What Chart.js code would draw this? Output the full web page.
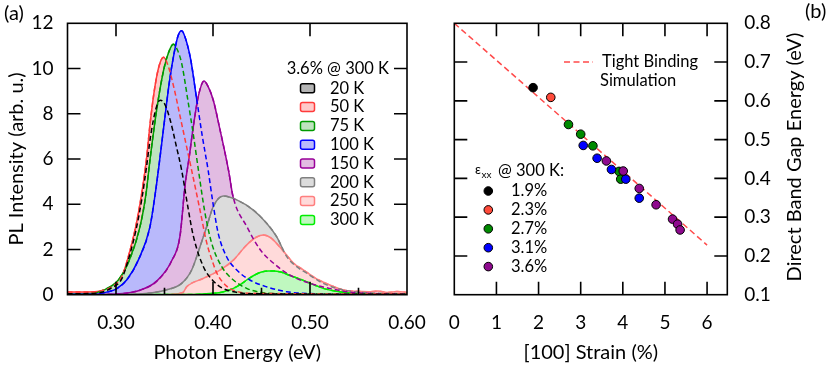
<!DOCTYPE html>
<html>
<head>
<meta charset="utf-8">
<script src="https://cdn.jsdelivr.net/npm/chart.js@4.4.1/dist/chart.umd.min.js"></script>
<style>
    body { margin: 0; background: #fff; }
    #wrap { position: relative; width: 831px; height: 365px; }
    canvas { position: absolute; top: 0; }
    #cA { left: 0; }
    #cB { left: 420px; }
</style>
</head>
<body>
<div id="wrap">
    <canvas id="cA" width="440" height="365"></canvas>
    <canvas id="cB" width="411" height="365"></canvas>
</div>
<script>
const FONT = 'Lato, "Open Sans", sans-serif';
Chart.defaults.font.family = FONT;
Chart.defaults.color = '#000';

/* --- panel (a): espectros PL, [energia eV, intensidad] ------------------- */
const spec20 = [[0.25,0.04],[0.28,0.07],[0.2955,0.3],[0.3059,0.7],[0.3117,1.4],[0.3203,2.8],[0.3265,4.2],[0.3313,5.6],[0.336,7.1],[0.341,8.2],[0.3455,8.6],[0.35,8.45],[0.356,7.7],[0.362,6.6],[0.3677,5.5],[0.374,3.9],[0.3797,2.6],[0.39,1.25],[0.40,0.62],[0.41,0.28],[0.425,0.1],[0.44,0.04],[0.60,0.02]];
const spec50 = [[0.25,0.12],[0.27,0.12],[0.2835,0.16],[0.2955,0.35],[0.3059,0.8],[0.3117,1.53],[0.3203,3.0],[0.3265,4.48],[0.3313,5.95],[0.3355,7.7],[0.3405,9.3],[0.345,10.2],[0.349,10.5],[0.3535,10.15],[0.36,9.1],[0.366,7.9],[0.372,6.7],[0.378,5.5],[0.3866,3.74],[0.3935,2.3],[0.40,1.4],[0.404,0.95],[0.414,0.38],[0.425,0.14],[0.44,0.06],[0.60,0.03]];
const spec75 = [[0.25,0.03],[0.275,0.05],[0.287,0.2],[0.3024,0.65],[0.3137,1.53],[0.3247,3.0],[0.331,4.48],[0.335,5.95],[0.34,7.6],[0.345,9.0],[0.35,10.1],[0.355,10.8],[0.359,11.07],[0.363,10.85],[0.3677,10.23],[0.3746,8.46],[0.38,7.0],[0.385,5.5],[0.3918,3.6],[0.3987,2.27],[0.409,1.24],[0.421,0.65],[0.4347,0.28],[0.45,0.1],[0.47,0.04],[0.60,0.02]];
const spec100 = [[0.25,0.02],[0.28,0.03],[0.2938,0.15],[0.30,0.25],[0.311,0.65],[0.323,1.53],[0.335,3.0],[0.3405,4.48],[0.345,5.95],[0.35,7.7],[0.355,9.4],[0.36,10.7],[0.364,11.45],[0.3677,11.67],[0.3715,11.35],[0.377,10.4],[0.383,8.7],[0.389,7.0],[0.395,5.5],[0.40,4.04],[0.4054,2.71],[0.414,1.68],[0.4245,1.09],[0.438,0.65],[0.455,0.35],[0.476,0.13],[0.50,0.05],[0.60,0.02]];
const spec150 = [[0.25,0.0],[0.30,0.03],[0.3247,0.2],[0.342,0.6],[0.3574,1.5],[0.366,2.6],[0.3711,4.8],[0.3755,6.1],[0.3797,7.43],[0.385,8.8],[0.3907,9.45],[0.395,9.2],[0.4003,8.6],[0.4072,7.3],[0.416,5.5],[0.4207,4.33],[0.435,3.0],[0.4485,2.0],[0.465,1.3],[0.48,0.85],[0.50,0.5],[0.52,0.28],[0.54,0.12],[0.56,0.06],[0.60,0.03]];
const spec200 = [[0.25,0.0],[0.30,0.0],[0.33,0.05],[0.3505,0.2],[0.3677,0.5],[0.378,1.09],[0.3866,2.12],[0.3935,3.0],[0.4003,3.9],[0.4106,4.36],[0.4245,4.19],[0.4416,3.74],[0.4553,3.16],[0.4657,2.56],[0.476,1.68],[0.4863,1.24],[0.4966,0.95],[0.5137,0.5],[0.5275,0.28],[0.538,0.18],[0.56,0.08],[0.60,0.04]];
const spec250 = [[0.25,0.0],[0.35,0.0],[0.369,0.1],[0.3729,0.35],[0.39,0.72],[0.4072,1.09],[0.421,1.53],[0.4347,2.2],[0.445,2.55],[0.4519,2.64],[0.46,2.5],[0.468,2.15],[0.476,1.75],[0.4828,1.4],[0.4931,1.1],[0.5069,0.7],[0.5206,0.43],[0.5343,0.21],[0.548,0.15],[0.56,0.13],[0.57,0.16],[0.58,0.1],[0.59,0.14],[0.60,0.1]];
const spec300 = [[0.25,0.0],[0.38,0.01],[0.40,0.06],[0.41,0.12],[0.421,0.28],[0.43,0.5],[0.4347,0.65],[0.442,0.85],[0.45,1.0],[0.457,1.05],[0.4622,1.05],[0.47,1.0],[0.4794,0.85],[0.488,0.72],[0.4966,0.57],[0.505,0.42],[0.5137,0.28],[0.5275,0.15],[0.54,0.08],[0.55,0.05],[0.60,0.03]];

const spectra = [spec20, spec50, spec75, spec100, spec150, spec200, spec250, spec300];
const tempLabels = ['20 K', '50 K', '75 K', '100 K', '150 K', '200 K', '250 K', '300 K'];
const lineColors = ['#000000', '#ff3b3b', '#009a00', '#0000ff', '#990099', '#808080', '#ff7f7f', '#00ee00'];
const fillColors = ['#b4b4b4', '#ffcaca', '#bfe3bf', '#b9b9fb', '#e2bce2', '#dcdcdc', '#ffdada', '#bff8bf'];
const xTicksA = [0.30, 0.40, 0.50, 0.60];
const yTicksA = [0, 2, 4, 6, 8, 10, 12];

/* --- panel (b): energia del gap vs deformacion --------------------------- */
const strain19 = [1.87];
const gap19 = [0.634];
const strain23 = [2.29];
const gap23 = [0.609];
const strain27 = [2.71, 3.00, 3.29, 3.91, 3.95];
const gap27 = [0.539, 0.514, 0.484, 0.418, 0.398];
const strain31 = [3.06, 3.39, 3.73, 4.07, 4.39];
const gap31 = [0.485, 0.452, 0.423, 0.398, 0.349];
const strain36 = [3.61, 4.01, 4.39, 4.79, 5.18, 5.30, 5.36];
const gap36 = [0.445, 0.419, 0.374, 0.332, 0.295, 0.282, 0.267];
const tbStrain = [0, 6];
const tbGap = [0.8, 0.228];
const groupLabels = ['1.9%', '2.3%', '2.7%', '3.1%', '3.6%'];
const groupColors = ['#000000', '#ff4a3a', '#008a00', '#0000ff', '#8e0a8e'];
const xTicksB = [0, 1, 2, 3, 4, 5, 6];
const yTicksB = [0.1, 0.2, 0.3, 0.4, 0.5, 0.6, 0.7, 0.8];

/* --- helpers ------------------------------------------------------------- */
const pts = arr => arr.map(([x, y]) => ({ x, y }));
const zipPts = (xs, ys) => xs.map((x, i) => ({ x, y: ys[i] }));
const fixTicks = vals => s => { s.ticks = vals.map(v => ({ value: v })); };
const TICK = 19, TITLE = 20, LEG = 16.5;

/* marco y marcas hacia adentro */
const frameTicks = {
    id: 'frameTicks',
    afterDraw(chart, args, o) {
        const { ctx, chartArea: a, scales: { x, y } } = chart;
        ctx.save();
        ctx.strokeStyle = '#000';
        ctx.lineWidth = 1.6;
        ctx.beginPath();
        o.xMajor.forEach(v => {
            const p = x.getPixelForValue(v);
            ctx.moveTo(p, a.bottom); ctx.lineTo(p, a.bottom - o.len);
            ctx.moveTo(p, a.top); ctx.lineTo(p, a.top + o.len);
        });
        (o.xMinor || []).forEach(v => {
            const p = x.getPixelForValue(v);
            ctx.moveTo(p, a.bottom); ctx.lineTo(p, a.bottom - o.minorLen);
        });
        o.yMajor.forEach(v => {
            const p = y.getPixelForValue(v);
            ctx.moveTo(a.left, p); ctx.lineTo(a.left + o.len, p);
            ctx.moveTo(a.right, p); ctx.lineTo(a.right - o.len, p);
        });
        ctx.stroke();
        ctx.strokeRect(a.left, a.top, a.width, a.height);
        ctx.restore();
    }
};

const legendA = {
    id: 'legendA',
    afterDraw(chart) {
        const ctx = chart.ctx;
        ctx.save();
        ctx.font = `${LEG}px ${FONT}`;
        ctx.textBaseline = 'middle';
        ctx.fillStyle = '#000';
        ctx.textAlign = 'right';
        ctx.fillText('3.6% @ 300 K', 389, 69);
        ctx.textAlign = 'left';
        tempLabels.forEach((t, i) => {
            const y = 88.3 + i * 18.8;
            ctx.beginPath();
            ctx.roundRect(300.5, y - 4.5, 14, 9, 2);
            ctx.fillStyle = fillColors[i];
            ctx.fill();
            ctx.strokeStyle = lineColors[i];
            ctx.lineWidth = 1.5;
            ctx.stroke();
            ctx.fillStyle = '#000';
            ctx.fillText(t, 330, y);
        });
        ctx.font = `${TITLE}px ${FONT}`;
        ctx.fillText('(a)', 4, 14);
        ctx.restore();
    }
};

const legendB = {
    id: 'legendB',
    afterDraw(chart) {
        const ctx = chart.ctx;
        const ox = 420;
        ctx.save();
        ctx.textBaseline = 'middle';
        ctx.textAlign = 'left';
        ctx.fillStyle = '#000';

        // Tight Binding
        ctx.strokeStyle = '#ff4a4a';
        ctx.lineWidth = 1.5;
        ctx.setLineDash([6, 3.5]);
        ctx.beginPath();
        ctx.moveTo(564 - ox, 62); ctx.lineTo(593 - ox, 62);
        ctx.stroke();
        ctx.setLineDash([]);
        ctx.font = `${LEG}px ${FONT}`;
        ctx.fillText('Tight Binding', 602 - ox, 62);
        ctx.fillText('Simulation', 600 - ox, 81);

        // eps_xx @ 300 K
        let x = 475 - ox;
        ctx.font = `13px ${FONT}`;
        ctx.fillText('ε', x, 170);
        x += ctx.measureText('ε').width + 0.5;
        ctx.font = `10px ${FONT}`;
        ctx.fillText('xx', x, 175);
        ctx.font = `${LEG}px ${FONT}`;
        ctx.fillText('@ 300 K:', 498 - ox, 171);

        groupLabels.forEach((t, i) => {
            const y = 191 + i * 18.9;
            ctx.beginPath();
            ctx.arc(488.3 - ox, y, 4.3, 0, Math.PI * 2);
            ctx.fillStyle = groupColors[i];
            ctx.fill();
            ctx.strokeStyle = '#000';
            ctx.lineWidth = 1;
            ctx.stroke();
            ctx.fillStyle = '#000';
            ctx.fillText(t, 511 - ox, y);
        });

        // titulo eje derecho
        ctx.font = `${TITLE}px ${FONT}`;
        ctx.save();
        ctx.translate(795 - ox, 157);
        ctx.rotate(-Math.PI / 2);
        ctx.textAlign = 'center';
        ctx.fillText('Direct Band Gap Energy (eV)', 0, 0);
        ctx.restore();

        ctx.textAlign = 'left';
        ctx.fillText('(b)', 805 - ox, 12);
        ctx.restore();
    }
};

/* --- panel (a) ----------------------------------------------------------- */
const dsA = [];
spectra.forEach((s, i) => {
    dsA.push({
        label: tempLabels[i],
        data: pts(s),
        borderColor: lineColors[i],
        backgroundColor: fillColors[i],
        fill: 'origin',
        borderWidth: 1.5,
        pointRadius: 0,
        cubicInterpolationMode: 'monotone',
        order: 20 - i
    });
});
spectra.forEach((s, i) => {
    dsA.push({
        label: tempLabels[i] + ' dash',
        data: pts(s),
        borderColor: lineColors[i],
        fill: false,
        borderWidth: 1.5,
        borderDash: [5, 3],
        pointRadius: 0,
        cubicInterpolationMode: 'monotone',
        order: 1
    });
});

new Chart(document.getElementById('cA'), {
    type: 'line',
    data: { datasets: dsA },
    options: {
        responsive: false,
        animation: false,
        events: [],
        layout: { padding: { top: 23.3, right: 33, left: 0, bottom: 0 } },
        plugins: {
            legend: { display: false },
            tooltip: { enabled: false },
            frameTicks: { xMajor: [0.30, 0.40, 0.50], xMinor: [0.35, 0.45, 0.55], yMajor: [2, 4, 6, 8, 10], len: 13, minorLen: 7 }
        },
        scales: {
            x: {
                type: 'linear', min: 0.25, max: 0.60,
                afterBuildTicks: fixTicks(xTicksA),
                afterFit: s => { s.height = 70.3; },
                grid: { display: false },
                border: { display: false },
                ticks: { autoSkip: false, maxRotation: 0, padding: 9, font: { size: TICK }, callback: v => v.toFixed(2) },
                title: { display: true, text: 'Photon Energy (eV)', font: { size: TITLE }, padding: { top: 0, bottom: 0 } }
            },
            y: {
                min: 0, max: 12,
                afterBuildTicks: fixTicks(yTicksA),
                afterFit: s => { s.width = 67.5; },
                grid: { display: false },
                border: { display: false },
                ticks: { padding: 6, font: { size: TICK } },
                title: { display: true, text: 'PL Intensity (arb. u.)', font: { size: TITLE }, padding: { top: 4.5, bottom: 4.5 } }
            }
        }
    },
    plugins: [frameTicks, legendA]
});

/* --- panel (b) ----------------------------------------------------------- */
const groupStrain = [strain19, strain23, strain27, strain31, strain36];
const groupGap = [gap19, gap23, gap27, gap31, gap36];
const dsB = groupStrain.map((s, i) => ({
    type: 'scatter',
    label: groupLabels[i],
    data: zipPts(s, groupGap[i]),
    backgroundColor: groupColors[i],
    borderColor: '#000',
    borderWidth: 1,
    pointRadius: 4.3,
    order: 10 - i
}));
dsB.push({
    type: 'line',
    label: 'Tight Binding Simulation',
    data: zipPts(tbStrain, tbGap),
    borderColor: '#ff4a4a',
    borderWidth: 1.5,
    borderDash: [6, 3.5],
    pointRadius: 0,
    fill: false,
    order: 20
});

new Chart(document.getElementById('cB'), {
    type: 'scatter',
    data: { datasets: dsB },
    options: {
        responsive: false,
        animation: false,
        events: [],
        layout: { padding: { top: 23.3, right: 0, left: 34.3, bottom: 0 } },
        plugins: {
            legend: { display: false },
            tooltip: { enabled: false },
            frameTicks: { xMajor: [1, 2, 3, 4, 5, 6], yMajor: [0.2, 0.3, 0.4, 0.5, 0.6, 0.7], len: 13 }
        },
        scales: {
            x: {
                type: 'linear', min: 0, max: 6.48,
                afterBuildTicks: fixTicks(xTicksB),
                afterFit: s => { s.height = 70.3; },
                grid: { display: false },
                border: { display: false },
                ticks: { autoSkip: false, maxRotation: 0, padding: 9, font: { size: TICK } },
                title: { display: true, text: '[100] Strain (%)', font: { size: TITLE }, padding: { top: 0, bottom: 0 } }
            },
            y: {
                position: 'right',
                min: 0.1, max: 0.8,
                afterBuildTicks: fixTicks(yTicksB),
                afterFit: s => { s.width = 103.7; },
                grid: { display: false },
                border: { display: false },
                ticks: { padding: 9, font: { size: TICK }, callback: v => v.toFixed(1) },
                title: { display: false }
            }
        }
    },
    plugins: [frameTicks, legendB]
});
</script>
</body>
</html>
